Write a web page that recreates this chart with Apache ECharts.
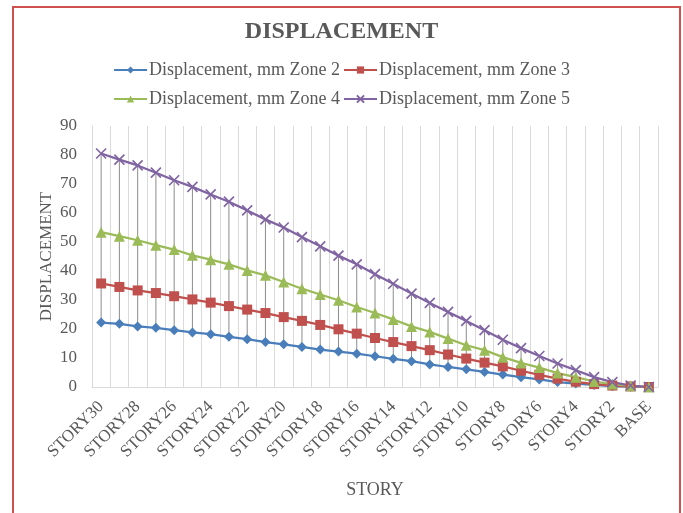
<!DOCTYPE html>
<html>
<head>
<meta charset="utf-8">
<script src="https://cdn.jsdelivr.net/npm/echarts@6/dist/echarts.min.js"></script>
<style>
  html, body { margin: 0; padding: 0; background: #ffffff; }
  #chart { width: 683px; height: 513px; }
</style>
</head>
<body>
<div id="chart"></div>
<script>
// Storeys from the top down to the base
const stories = ['STORY30','STORY29','STORY28','STORY27','STORY26','STORY25','STORY24','STORY23',
  'STORY22','STORY21','STORY20','STORY19','STORY18','STORY17','STORY16','STORY15','STORY14',
  'STORY13','STORY12','STORY11','STORY10','STORY9','STORY8','STORY7','STORY6','STORY5','STORY4',
  'STORY3','STORY2','STORY1','BASE'];

// Displacement (mm) per storey for each zone
const zone2 = [22.2, 21.8, 20.9, 20.4, 19.6, 18.8, 18.2, 17.3, 16.5, 15.5, 14.7, 13.8, 12.9, 12.2,
  11.5, 10.6, 9.7, 8.9, 7.8, 6.9, 6.1, 5.2, 4.3, 3.4, 2.6, 1.7, 1.2, 0.7, 0.3, 0.1, 0];
const zone3 = [35.7, 34.5, 33.3, 32.4, 31.3, 30.2, 29.1, 27.9, 26.7, 25.5, 24.1, 22.8, 21.4, 19.9,
  18.4, 16.9, 15.5, 14.1, 12.7, 11.2, 9.8, 8.4, 7.1, 5.6, 4.2, 2.9, 1.8, 1.0, 0.5, 0.2, 0];
const zone4 = [53.4, 52.0, 50.6, 48.9, 47.4, 45.4, 43.9, 42.3, 40.2, 38.5, 36.2, 33.9, 31.9, 29.9,
  27.6, 25.5, 23.3, 20.9, 19.0, 16.7, 14.4, 12.7, 10.3, 8.3, 6.7, 4.8, 3.4, 1.9, 1.0, 0.4, 0];
const zone5 = [80.5, 78.4, 76.4, 73.9, 71.3, 69.0, 66.4, 63.9, 60.9, 57.8, 55.0, 51.7, 48.5, 45.3,
  42.3, 38.9, 35.6, 32.2, 29.0, 25.9, 22.8, 19.6, 16.3, 13.4, 10.7, 8.1, 5.8, 3.4, 1.7, 0.5, 0];

const seriesNames = ['Displacement, mm Zone 2', 'Displacement, mm Zone 3',
  'Displacement, mm Zone 4', 'Displacement, mm Zone 5'];
const yTicks = { min: 0, max: 90, step: 10 };

const FONT = "'Liberation Serif', 'Times New Roman', serif";
const TEXT = '#595959';
const zones = [zone2, zone3, zone4, zone5];

// High-low span at each storey (lowest to highest zone)
const hiLo = stories.map((s, i) => {
  const vals = zones.map(z => z[i]);
  return [i, Math.min.apply(null, vals), Math.max.apply(null, vals)];
});

const crossPath = 'path://M0,0L10,10M10,0L0,10';

function lineSeries(name, data, color, symbol, size, extraItem) {
  return {
    name: name,
    type: 'line',
    data: data,
    symbol: symbol,
    symbolSize: size,
    lineStyle: { color: color, width: 2.25 },
    itemStyle: Object.assign({ color: color }, extraItem || {}),
    z: 3
  };
}

const legendBase = {
  left: 'center',
  itemWidth: 33,
  itemHeight: 9,
  itemGap: 3,
  textStyle: { fontFamily: FONT, fontSize: 18, color: TEXT, padding: [0, 0, 0, -3] }
};

const chart = echarts.init(document.getElementById('chart'), null, { renderer: 'canvas' });

chart.setOption({
  animation: false,
  backgroundColor: '#ffffff',
  title: {
    text: 'DISPLACEMENT',
    left: 'center',
    top: 15,
    textStyle: { fontFamily: FONT, fontSize: 24, fontWeight: 'bold', color: TEXT }
  },
  graphic: [{
    type: 'rect',
    shape: { x: 13, y: 7, width: 667, height: 530 },
    style: { fill: 'none', stroke: '#d0504f', lineWidth: 2 },
    silent: true
  }],
  legend: [
    Object.assign({ data: seriesNames.slice(0, 2), top: 56 }, legendBase),
    Object.assign({ data: seriesNames.slice(2, 4), top: 85 }, legendBase)
  ],
  grid: { left: 92, right: 25, top: 126, bottom: 126, containLabel: false },
  xAxis: {
    type: 'category',
    data: stories,
    boundaryGap: true,
    name: 'STORY',
    nameLocation: 'middle',
    nameGap: 94,
    nameMoveOverlap: false,
    nameTextStyle: { fontFamily: FONT, fontSize: 18, color: TEXT },
    axisLine: { show: true, lineStyle: { color: '#d9d9d9', width: 1 } },
    axisTick: { show: false },
    axisLabel: {
      interval: 1,
      rotate: 45,
      margin: 17,
      fontFamily: FONT,
      fontSize: 17,
      color: TEXT
    },
    splitLine: { show: true, interval: 0, lineStyle: { color: '#d9d9d9', width: 1 } }
  },
  yAxis: {
    type: 'value',
    min: yTicks.min,
    max: yTicks.max,
    interval: yTicks.step,
    name: 'DISPLACEMENT',
    nameLocation: 'middle',
    nameRotate: 90,
    nameGap: 37,
    nameMoveOverlap: false,
    nameTextStyle: { fontFamily: FONT, fontSize: 17, color: TEXT },
    axisLine: { show: true, lineStyle: { color: '#d9d9d9', width: 1 } },
    axisTick: { show: false },
    axisLabel: { margin: 15, fontFamily: FONT, fontSize: 17, color: TEXT },
    splitLine: { show: false }
  },
  series: [
    {
      name: 'hiLo',
      type: 'custom',
      data: hiLo,
      encode: { x: 0, y: [1, 2] },
      z: 2,
      silent: true,
      renderItem: function (params, api) {
        const i = api.value(0);
        const lo = api.coord([i, api.value(1)]);
        const hi = api.coord([i, api.value(2)]);
        return {
          type: 'line',
          shape: { x1: lo[0], y1: lo[1], x2: hi[0], y2: hi[1] },
          style: { stroke: '#8c8c8c', lineWidth: 1 }
        };
      }
    },
    lineSeries(seriesNames[0], zone2, '#4a7ebb', 'diamond', 10),
    lineSeries(seriesNames[1], zone3, '#c0504d', 'rect', 10),
    lineSeries(seriesNames[2], zone4, '#9bbb59', 'triangle', 11),
    lineSeries(seriesNames[3], zone5, '#8064a2', crossPath, 10,
      { borderColor: '#8064a2', borderWidth: 1.6 })
  ]
});
</script>
</body>
</html>
